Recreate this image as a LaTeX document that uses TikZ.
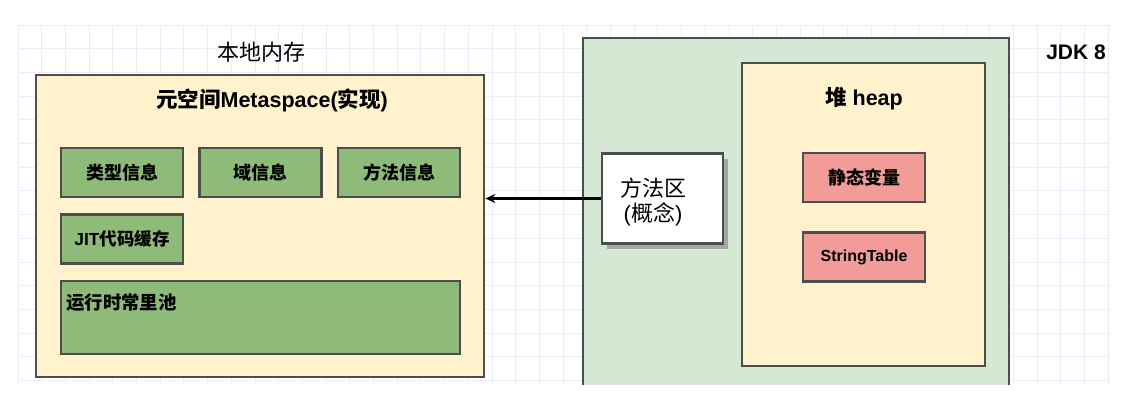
\documentclass[tikz,border=0pt]{standalone}
\usepackage{fontspec}
\setmainfont{Liberation Sans}
\newfontfamily\cjk{Noto Sans CJK SC}
\usetikzlibrary{arrows.meta,shadows}
\definecolor{memyellow}{HTML}{FFF2CC}
\definecolor{infogreen}{HTML}{8FBB78}
\definecolor{jdkgreen}{HTML}{D5E8D4}
\definecolor{heapred}{HTML}{F19C99}
\definecolor{edgegray}{HTML}{4D4D4D}
\definecolor{gridblue}{HTML}{EBEBFA}
\begin{document}
\begin{tikzpicture}[x=1pt,y=-1pt]
\tikzstyle{every node}+=[inner sep=0pt]
\tikzstyle{box}=[draw=edgegray, line width=2.6pt]
\tikzstyle{infobox}=[box, fill=infogreen, minimum width=122pt, minimum height=49pt, font=\fontsize{18}{20}\selectfont\bfseries]
\tikzstyle{heapbox}=[box, fill=heapred, minimum width=122pt, minimum height=49pt, font=\fontsize{18}{20}\selectfont\bfseries]
\useasboundingbox (0,0) rectangle (1138,413);
\fill [white] (0,0) rectangle (1138,413);
\foreach \gx in {0,...,46}
  \draw [gridblue, line width=1pt] (18+\gx*23.7,25) -- (18+\gx*23.7,385);
\foreach \gy in {0,...,15}
  \draw [gridblue, line width=1pt] (18,25+\gy*23.7) -- (1110,25+\gy*23.7);

\node [font=\fontsize{22}{24}\selectfont\cjk] (local) at (261,52) {本地内存};
\node [box, fill=memyellow, minimum width=448pt, minimum height=302pt] (meta) at (260,226) {};
\node [font=\fontsize{21.5}{23}\selectfont\bfseries] (metatitle) at (272,100) {{\cjk 元空间}Metaspace({\cjk 实现})};
\node [infobox] (type) at (122,172.5) {\cjk 类型信息};
\node [infobox] (field) at (260.5,172.5) {\cjk 域信息};
\node [infobox] (method) at (399,172.5) {\cjk 方法信息};
\node [infobox, font=\fontsize{17.5}{20}\selectfont\bfseries] (jit) at (122,239) {JIT{\cjk 代码缓存}};
\node [infobox, minimum width=399pt, minimum height=73pt] (pool) at (260.5,317.5) {};
\node [anchor=west, font=\fontsize{18.4}{20}\selectfont\bfseries\cjk] (pooltext) at (66,303) {运行时常里池};

\fill [jdkgreen] (583,38) rectangle (1009,385);
\draw [edgegray, line width=2.6pt] (583,385) -- (583,38) -- (1009,38) -- (1009,385);
\node [font=\fontsize{21}{23}\selectfont\bfseries] (jdk) at (1076,52) {JDK 8};
\node [box, fill=white, minimum width=121pt, minimum height=90pt, drop shadow={shadow xshift=5pt, shadow yshift=-5pt, fill=black!35, opacity=1}] (area) at (662.5,198.5) {};
\node [align=center, font=\fontsize{22}{25}\selectfont] (areatext) at (653,202) {{\cjk 方法区}\\({\cjk 概念})};
\node [box, fill=memyellow, minimum width=243pt, minimum height=303pt] (heap) at (863.5,214.5) {};
\node [font=\fontsize{21.5}{23}\selectfont\bfseries] (heaptitle) at (864,99) {{\cjk 堆} heap};
\node [heapbox] (static) at (864,177.5) {\cjk 静态变量};
\node [heapbox, font=\fontsize{16}{18}\selectfont\bfseries] (strtab) at (864,257) {StringTable};

\draw [-{Stealth[length=10pt,width=9pt]}, line width=2.2pt] (area.west) -- (meta.east |- area.west);
\end{tikzpicture}
\end{document}
